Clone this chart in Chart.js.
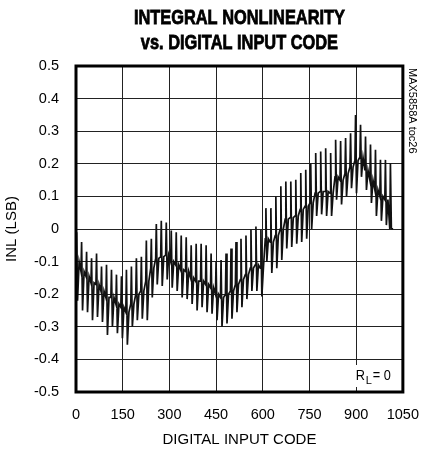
<!DOCTYPE html>
<html>
<head>
<meta charset="utf-8">
<script src="https://cdn.jsdelivr.net/npm/chart.js@4.4.1/dist/chart.umd.min.js"></script>
<style>
  html, body { margin: 0; padding: 0; background: #fff; }
  #wrap { width: 433px; height: 453px; }
</style>
</head>
<body>
<div id="wrap"><canvas id="inl"></canvas></div>
<script>
// start code of each 16-code segment
const segmentCodes = [
  0, 16, 32, 48, 64, 80, 96, 112, 128, 144, 160, 176, 192, 208, 224, 240,
  256, 272, 288, 304, 320, 336, 352, 368, 384, 400, 416, 432, 448, 464, 480, 496,
  512, 528, 544, 560, 576, 592, 608, 624, 640, 656, 672, 688, 704, 720, 736, 752,
  768, 784, 800, 816, 832, 848, 864, 880, 896, 912, 928, 944, 960, 976, 992, 1008
];
// code offsets inside a segment where band / peak / trough / band were read
const segmentOffsets = [0, 2, 5, 10];

// INL (LSB), one value per segment
const bandInl = [
  -0.10, -0.13, -0.145, -0.165, -0.17, -0.19, -0.21, -0.21, -0.23, -0.24, -0.255, -0.23, -0.20, -0.19, -0.16, -0.12,
  -0.09, -0.085, -0.08, -0.10, -0.11, -0.125, -0.13, -0.15, -0.16, -0.16, -0.17, -0.18, -0.20, -0.21, -0.20, -0.19,
  -0.17, -0.155, -0.14, -0.12, -0.11, -0.12, -0.03, -0.04, -0.02, 0.0, 0.03, 0.035, 0.04, 0.06, 0.07, 0.08,
  0.11, 0.115, 0.115, 0.11, 0.16, 0.15, 0.17, 0.19, 0.21, 0.22, 0.18, 0.15, 0.12, 0.10, 0.09, 0.0
];
const peakInl = [
  -0.01, -0.04, -0.07, -0.09, -0.075, -0.115, -0.11, -0.125, -0.14, -0.145, -0.125, -0.115, -0.09, -0.085, -0.035, -0.03,
  0.015, 0.025, 0.02, -0.005, -0.01, -0.02, -0.025, -0.05, -0.045, -0.045, -0.05, -0.075, -0.10, -0.095, -0.075, -0.06,
  -0.04, -0.03, -0.02, -0.002, 0.008, -0.002, 0.064, 0.064, 0.10, 0.131, 0.146, 0.146, 0.151, 0.172, 0.182, 0.20,
  0.233, 0.238, 0.248, 0.233, 0.274, 0.27, 0.279, 0.294, 0.35, 0.32, 0.284, 0.259, 0.243, 0.212, 0.212, 0.202
];
const troughInl = [
  -0.22, -0.25, -0.255, -0.28, -0.27, -0.285, -0.325, -0.30, -0.32, -0.335, -0.355, -0.30, -0.28, -0.275, -0.28, -0.21,
  -0.17, -0.175, -0.155, -0.18, -0.19, -0.21, -0.215, -0.23, -0.25, -0.24, -0.255, -0.26, -0.28, -0.30, -0.29, -0.275,
  -0.255, -0.24, -0.215, -0.19, -0.19, -0.207, -0.10, -0.135, -0.12, -0.095, -0.06, -0.055, -0.045, -0.04, -0.03, 0.0,
  0.04, 0.045, 0.04, 0.04, 0.09, 0.075, 0.10, 0.125, 0.11, 0.16, 0.12, 0.08, 0.04, 0.025, 0.012, 0.003
];

const xTicks = [0, 150, 300, 450, 600, 750, 900, 1050];
const yTicks = [-0.5, -0.4, -0.3, -0.2, -0.1, 0, 0.1, 0.2, 0.3, 0.4, 0.5];
const titleLines = ["INTEGRAL NONLINEARITY", "vs. DIGITAL INPUT CODE"];

const sans = "'Liberation Sans', Arial, sans-serif";

// build the trace
const points = [];
segmentCodes.forEach((code, i) => {
  const vals = [bandInl[i], peakInl[i], troughInl[i], bandInl[i]];
  segmentOffsets.forEach((off, j) => {
    points.push({ x: code + off, y: vals[j] });
  });
});

// condensed heavy title, centred over the plot
const titlePlugin = {
  id: "condensedTitle",
  afterDraw(chart) {
    const { ctx, chartArea: a } = chart;
    const cx = (a.left + a.right) / 2;
    ctx.save();
    ctx.fillStyle = "#000";
    ctx.strokeStyle = "#000";
    ctx.lineWidth = 0.8;
    ctx.font = "bold 21px " + sans;
    ctx.textAlign = "center";
    ctx.textBaseline = "alphabetic";
    titleLines.forEach((line, i) => {
      ctx.save();
      ctx.translate(cx, 24 + i * 24.5);
      ctx.scale(0.78, 1);
      ctx.fillText(line, 0, 0);
      ctx.strokeText(line, 0, 0);
      ctx.restore();
    });
    ctx.restore();
  }
};

const framePlugin = {
  id: "frame",
  afterDatasetsDraw(chart) {
    const { ctx, chartArea: a } = chart;
    ctx.save();

    // R_L = 0 label with white box
    ctx.fillStyle = "#fff";
    ctx.fillRect(a.right - 50, a.bottom - 27, 44, 22);
    ctx.fillStyle = "#000";
    ctx.textBaseline = "alphabetic";
    ctx.textAlign = "left";
    ctx.font = "15px " + sans;
    ctx.save();
    ctx.translate(a.right - 47, a.bottom - 12);
    ctx.scale(0.85, 1);
    ctx.fillText("R", 0, 0);
    ctx.restore();
    ctx.font = "11px " + sans;
    ctx.fillText("L", a.right - 37, a.bottom - 8);
    ctx.font = "15px " + sans;
    ctx.save();
    ctx.translate(a.right - 30, a.bottom - 12);
    ctx.scale(0.85, 1);
    ctx.fillText("= 0", 0, 0);
    ctx.restore();

    // frame
    ctx.strokeStyle = "#000";
    ctx.lineWidth = 3;
    ctx.strokeRect(a.left, a.top, a.right - a.left, a.bottom - a.top);

    // part number, rotated
    ctx.translate(a.right + 4, a.top + 2);
    ctx.rotate(Math.PI / 2);
    ctx.font = "11px " + sans;
    ctx.textBaseline = "bottom";
    ctx.fillText("MAX5858A toc26", 0, 0);
    ctx.restore();
  }
};

const ctx = document.getElementById("inl").getContext("2d");
new Chart(ctx, {
  type: "line",
  data: {
    datasets: [{
      data: points,
      borderColor: "#111",
      borderWidth: 1.7,
      pointRadius: 0,
      tension: 0,
      fill: false
    }]
  },
  options: {
    responsive: true,
    maintainAspectRatio: false,
    animation: false,
    layout: { padding: { left: 0, right: 30, top: 66, bottom: 0 } },
    plugins: {
      legend: { display: false },
      tooltip: { enabled: false },
      title: { display: false }
    },
    scales: {
      x: {
        type: "linear",
        min: 0,
        max: 1050,
        afterBuildTicks: (scale) => { scale.ticks = xTicks.map((v) => ({ value: v })); },
        afterFit: (scale) => { scale.height = 61; },
        grid: { color: "#222", lineWidth: 1, drawTicks: false },
        border: { display: false },
        ticks: {
          color: "#000",
          padding: 14,
          maxRotation: 0,
          font: { family: sans, size: 14.5 },
          callback: (v) => String(v)
        },
        title: {
          display: true,
          text: "DIGITAL INPUT CODE",
          color: "#000",
          font: { family: sans, size: 15 },
          padding: { top: 0, bottom: 4 }
        }
      },
      y: {
        min: -0.5,
        max: 0.5,
        afterBuildTicks: (scale) => { scale.ticks = yTicks.map((v) => ({ value: v })); },
        afterFit: (scale) => { scale.width = 76; },
        grid: { color: "#222", lineWidth: 1, drawTicks: false },
        border: { display: false },
        ticks: {
          color: "#000",
          padding: 17,
          font: { family: sans, size: 14.5 },
          callback: (v) => String(+v.toFixed(1))
        },
        title: {
          display: true,
          text: "INL (LSB)",
          color: "#000",
          font: { family: sans, size: 15 },
          padding: { top: 3, bottom: 0 }
        }
      }
    }
  },
  plugins: [framePlugin, titlePlugin]
});
</script>
</body>
</html>
